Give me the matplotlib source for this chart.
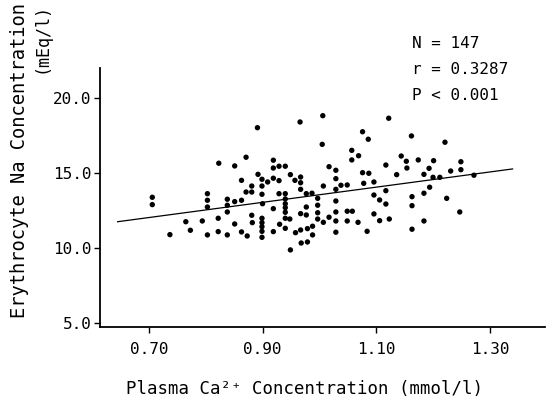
import matplotlib
matplotlib.use("Agg")
import matplotlib.pyplot as plt

plasma_ca = [
    0.823, 0.851, 0.706, 0.706, 0.803, 0.803, 0.803, 0.838, 0.838, 0.838,
    0.851, 0.765, 0.794, 0.822, 0.851, 0.737, 0.773, 0.803, 0.822, 0.838,
    1.006, 0.966, 0.891, 1.122, 1.076, 1.086, 1.005, 0.871, 0.919, 1.057,
    1.057, 1.069, 1.117, 0.919, 0.929, 0.940, 1.017, 1.029, 0.892, 0.949,
    1.076, 1.087, 0.863, 0.899, 0.909, 0.919, 0.929, 0.957, 0.967, 0.967,
    1.029, 0.881, 0.899, 0.871, 0.881, 0.967, 0.929, 0.940, 0.899, 1.007,
    1.029, 1.038, 1.049, 1.078, 1.096, 1.117, 0.863, 0.900, 0.940, 0.940,
    0.940, 0.940, 0.977, 0.987, 0.997, 0.997, 0.997, 0.997, 0.919, 0.977,
    0.967, 0.977, 1.029, 1.029, 1.049, 1.058, 1.096, 1.106, 1.117, 0.881,
    0.882, 0.899, 0.899, 0.899, 0.899, 0.899, 0.940, 0.948, 0.930, 0.940,
    1.007, 1.017, 1.029, 1.049, 1.068, 1.096, 1.106, 1.123, 0.863, 0.873,
    0.919, 0.958, 0.967, 0.979, 0.988, 0.988, 1.029, 1.084, 0.968, 0.979,
    0.949,
    1.162, 1.221, 1.144, 1.153, 1.174, 1.201, 1.249, 1.154, 1.193, 1.136,
    1.184, 1.231, 1.249, 1.200, 1.212, 1.272, 1.194, 1.163, 1.184, 1.163,
    1.224, 1.184, 1.247, 1.163,
]

erythrocyte_na = [
    15.65, 15.47, 13.38, 12.89, 13.62, 13.18, 12.73, 13.25, 12.85, 12.40,
    13.09, 11.75, 11.80, 11.98, 11.60, 10.89, 11.18, 10.87, 11.09, 10.87,
    18.82, 18.40, 18.02, 18.65, 17.75, 17.25, 16.91, 16.05, 15.85, 16.51,
    15.87, 16.15, 15.53, 15.33, 15.45, 15.45, 15.42, 15.18, 14.91, 14.89,
    15.02, 14.98, 14.51, 14.58, 14.40, 14.65, 14.49, 14.51, 14.73, 14.35,
    14.62, 14.13, 14.13, 13.73, 13.73, 13.91, 13.62, 13.62, 13.58, 14.13,
    13.91, 14.18, 14.20, 14.31, 14.40, 13.82, 13.18, 12.95, 13.27, 12.95,
    12.69, 12.38, 13.62, 13.65, 13.31, 12.85, 12.35, 11.93, 12.62, 12.73,
    12.29, 12.20, 13.13, 12.40, 12.45, 12.45, 13.53, 13.20, 12.93, 12.18,
    11.69, 11.98, 11.69, 11.42, 11.11, 10.71, 11.98, 11.93, 11.58, 11.31,
    11.71, 12.05, 11.80, 11.80, 11.71, 12.27, 11.82, 11.93, 11.07, 10.80,
    11.09, 11.02, 11.20, 11.29, 11.45, 10.87, 11.05, 11.11, 10.33, 10.40,
    9.87,
    17.47, 17.05, 16.13, 15.78, 15.87, 15.82, 15.75, 15.33, 15.31, 14.89,
    14.91, 15.13, 15.22, 14.71, 14.71, 14.85, 14.05, 13.42, 13.65, 12.82,
    13.31, 11.80, 12.40, 11.25,
]

# regression line as drawn (end points)
fit_x = [0.645, 1.340]
fit_y = [11.75, 15.27]

x_ticks = [0.70, 0.90, 1.10, 1.30]
y_ticks = [5.0, 10.0, 15.0, 20.0]
stats_lines = ["N = 147", "r = 0.3287", "P < 0.001"]

W, H = 548, 398
fig = plt.figure(figsize=(W / 100, H / 100), dpi=100)
ax = fig.add_axes([100 / W, 1 - 327 / H, (545 - 100) / W, (327 - 68) / H])

mono = "DejaVu Sans Mono"

ax.scatter(plasma_ca, erythrocyte_na, s=15, color="black", edgecolors="none", zorder=3)
ax.plot(fit_x, fit_y, color="black", lw=0.9, zorder=2)

ax.set_xlim(0.614, 1.397)
ax.set_ylim(4.73, 22.0)
ax.set_xticks(x_ticks)
ax.set_xticklabels([f"{v:.2f}" for v in x_ticks], family=mono, fontsize=11.5)
ax.set_yticks(y_ticks)
ax.set_yticklabels([f"{v:.1f}" for v in y_ticks], family=mono, fontsize=11.5)
ax.tick_params(axis="x", direction="out", length=4, width=1, pad=7)
ax.tick_params(axis="y", direction="out", length=4, width=1, pad=2)
for s in ["top", "right"]:
    ax.spines[s].set_visible(False)
for s in ["left", "bottom"]:
    ax.spines[s].set_linewidth(1.3)

fig.text(304 / W, 1 - 389 / H, "Plasma Ca²⁺ Concentration (mmol/l)",
         family=mono, fontsize=12.5, ha="center", va="center")
fig.text(20 / W, 1 - 3 / H, "Erythrocyte Na Concentration",
         family=mono, fontsize=13.5, rotation=90, ha="center", va="top")
fig.text(41 / W, 1 - 3 / H, "(mEq/l)",
         family=mono, fontsize=12, rotation=90, ha="center", va="top")

for i, line in enumerate(stats_lines):
    fig.text(412 / W, 1 - (44 + 26 * i) / H, line, family=mono,
             fontsize=11.5, ha="left", va="center")

fig.savefig("out.png", dpi=100)
